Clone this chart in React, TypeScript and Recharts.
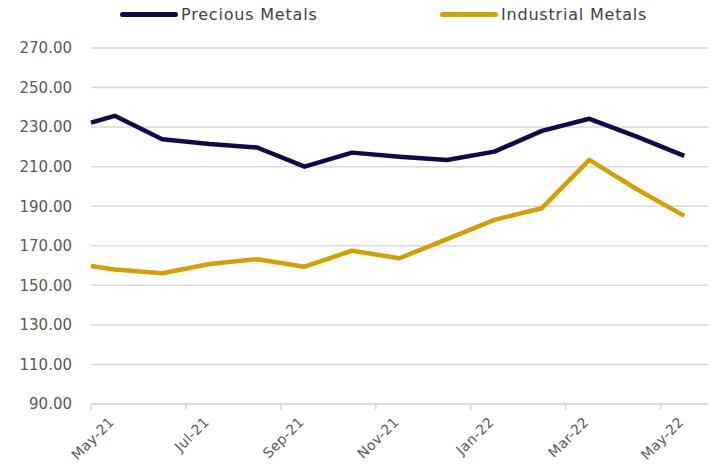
import { CartesianGrid, Line, LineChart, XAxis, YAxis } from 'recharts';

// month offsets from May-21 (first point at the start, then mid-month readings)
const monthPos = [0, 0.5, 1.5, 2.5, 3.5, 4.5, 5.5, 6.5, 7.5, 8.5, 9.5, 10.5, 11.5, 12.5];
const precious = [232.3, 235.7, 223.9, 221.5, 219.7, 210.0, 217.1, 215.0, 213.4, 217.6, 228.1, 234.2, 225.2, 215.5];
const industrial = [159.8, 158.0, 156.1, 160.8, 163.2, 159.4, 167.5, 163.7, 173.4, 183.1, 189.0, 213.4, 198.6, 185.1];

const tickPos = [0, 2, 4, 6, 8, 10, 12];
const tickLabels = ['May-21', 'Jul-21', 'Sep-21', 'Nov-21', 'Jan-22', 'Mar-22', 'May-22'];
const yTicks = [90, 110, 130, 150, 170, 190, 210, 230, 250, 270];

const colors = {
  precious: '#0c0c4c',
  industrial: '#d3a000',
  text: '#595959',
  grid: '#d9d9d9',
};

const FONT = '"DejaVu Sans", sans-serif';

const data = monthPos.map((m, i) => ({
  m,
  precious: precious[i],
  industrial: industrial[i],
}));

const XTick = ({ x, y, payload }: { x?: number; y?: number; payload?: { value: number } }) => {
  const idx = tickPos.indexOf(payload?.value ?? -1);
  const tx = (x ?? 0) + 24;
  const ty = (y ?? 0) + 11;
  return (
    <text
      x={tx}
      y={ty}
      textAnchor="end"
      fill={colors.text}
      fontSize={14}
      letterSpacing={0.3}
      fontFamily={FONT}
      transform={`rotate(-45, ${tx}, ${ty})`}
    >
      {tickLabels[idx]}
    </text>
  );
};

const LegendItem = ({ color, label, left }: { color: string; label: string; left: number }) => (
  <div style={{ position: 'absolute', left, top: 5, display: 'flex', alignItems: 'center' }}>
    <div style={{ width: 58, height: 5, borderRadius: 3, background: color, marginRight: 3 }} />
    <span style={{ fontFamily: FONT, fontSize: 16, letterSpacing: 0.8, color: '#404040' }}>{label}</span>
  </div>
);

export default function App() {
  return (
    <div style={{ position: 'absolute', left: 0, top: 0, width: 717, height: 466, background: '#fff' }}>
      <LegendItem color={colors.precious} label="Precious Metals" left={120} />
      <LegendItem color={colors.industrial} label="Industrial Metals" left={440} />
      <LineChart width={717} height={466} data={data} margin={{ top: 48, right: 9, left: 0, bottom: 0 }}>
        <CartesianGrid vertical={false} stroke={colors.grid} strokeWidth={1.5} />
        <XAxis
          dataKey="m"
          type="number"
          domain={[0, 13]}
          ticks={tickPos}
          interval={0}
          height={62}
          axisLine={{ stroke: colors.grid, strokeWidth: 1.5 }}
          tickLine={{ stroke: colors.grid, strokeWidth: 1.5 }}
          tickSize={6}
          tick={<XTick />}
        />
        <YAxis
          type="number"
          domain={[90, 270]}
          ticks={yTicks}
          interval={0}
          width={91}
          axisLine={false}
          tickLine={false}
          tickSize={0}
          tickMargin={19}
          tickFormatter={(v: number) => v.toFixed(2)}
          tick={{ fill: colors.text, fontSize: 15, fontFamily: FONT }}
        />
        <Line
          dataKey="precious"
          stroke={colors.precious}
          strokeWidth={4.5}
          dot={false}
          strokeLinejoin="round"
          isAnimationActive={false}
        />
        <Line
          dataKey="industrial"
          stroke={colors.industrial}
          strokeWidth={4.5}
          dot={false}
          strokeLinejoin="round"
          isAnimationActive={false}
        />
      </LineChart>
    </div>
  );
}
